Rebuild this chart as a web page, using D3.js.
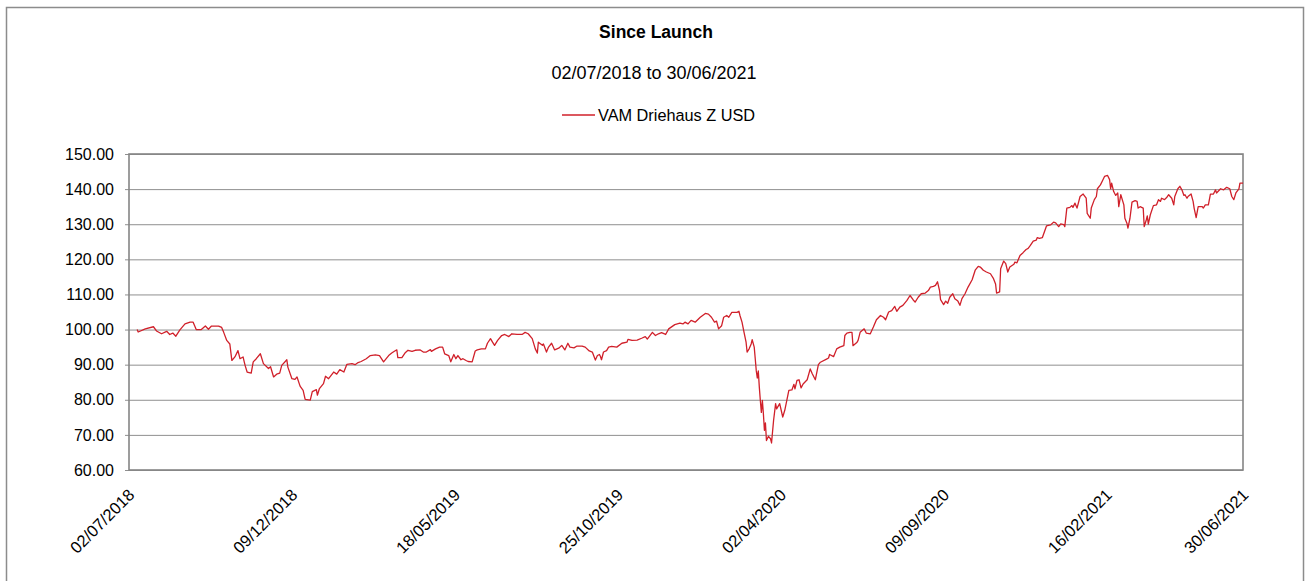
<!DOCTYPE html>
<html>

<head>
  <meta charset="UTF-8" />
  <title>Since Launch</title>
  <script src="https://d3js.org/d3.v7.min.js"></script>
  <style>
    body { margin: 0; background: #fff; }
    text { font-family: "Liberation Sans", Arial, sans-serif; fill: #000; }
  </style>
</head>

<body>
  <div id="chart"></div>

  <script>
    // chart texts
    const chartTitle = "Since Launch";
    const chartSubtitle = "02/07/2018 to 30/06/2021";
    const seriesName = "VAM Driehaus Z USD";

    // axis
    const xTickDates = ["2018-07-02", "2018-12-09", "2019-05-18", "2019-10-25",
      "2020-04-02", "2020-09-09", "2021-02-16", "2021-06-30"];
    const yTicks = [60, 70, 80, 90, 100, 110, 120, 130, 140, 150];

    // series
    const dates = [
      "2018-07-10", "2018-07-11", "2018-07-18", "2018-07-26", "2018-07-29", "2018-08-03", "2018-08-08", "2018-08-11",
      "2018-08-14", "2018-08-17", "2018-08-21", "2018-08-26", "2018-08-31", "2018-09-03", "2018-09-06", "2018-09-11",
      "2018-09-15", "2018-09-18", "2018-09-21", "2018-09-28", "2018-10-01", "2018-10-03", "2018-10-06", "2018-10-09",
      "2018-10-11", "2018-10-14", "2018-10-17", "2018-10-19", "2018-10-22", "2018-10-24", "2018-10-26", "2018-10-30",
      "2018-11-01", "2018-11-04", "2018-11-08", "2018-11-11", "2018-11-16", "2018-11-18", "2018-11-21", "2018-11-24",
      "2018-11-27", "2018-11-29", "2018-12-04", "2018-12-05", "2018-12-09", "2018-12-12", "2018-12-14", "2018-12-17",
      "2018-12-20", "2018-12-22", "2018-12-27", "2018-12-29", "2019-01-02", "2019-01-03", "2019-01-05", "2019-01-09",
      "2019-01-11", "2019-01-14", "2019-01-19", "2019-01-22", "2019-01-25", "2019-01-29", "2019-02-01", "2019-02-06",
      "2019-02-09", "2019-02-12", "2019-02-15", "2019-02-20", "2019-02-24", "2019-03-01", "2019-03-05", "2019-03-09",
      "2019-03-14", "2019-03-17", "2019-03-20", "2019-03-22", "2019-03-23", "2019-03-27", "2019-03-30", "2019-04-02",
      "2019-04-06", "2019-04-09", "2019-04-14", "2019-04-17", "2019-04-20", "2019-04-24", "2019-04-25", "2019-04-29",
      "2019-05-03", "2019-05-06", "2019-05-08", "2019-05-12", "2019-05-14", "2019-05-17", "2019-05-19", "2019-05-21",
      "2019-05-24", "2019-05-26", "2019-05-29", "2019-05-31", "2019-06-04", "2019-06-07", "2019-06-09", "2019-06-13",
      "2019-06-17", "2019-06-19", "2019-06-22", "2019-06-24", "2019-06-26", "2019-06-29", "2019-07-03", "2019-07-06",
      "2019-07-10", "2019-07-13", "2019-07-18", "2019-07-23", "2019-07-26", "2019-07-29", "2019-08-02", "2019-08-05",
      "2019-08-07", "2019-08-08", "2019-08-12", "2019-08-13", "2019-08-16", "2019-08-18", "2019-08-21", "2019-08-24",
      "2019-08-28", "2019-08-31", "2019-09-03", "2019-09-06", "2019-09-08", "2019-09-12", "2019-09-15", "2019-09-20",
      "2019-09-23", "2019-09-27", "2019-09-30", "2019-10-03", "2019-10-05", "2019-10-07", "2019-10-08", "2019-10-09",
      "2019-10-11", "2019-10-14", "2019-10-16", "2019-10-19", "2019-10-24", "2019-10-29", "2019-11-03", "2019-11-04",
      "2019-11-08", "2019-11-13", "2019-11-18", "2019-11-21", "2019-11-23", "2019-11-28", "2019-12-01", "2019-12-04",
      "2019-12-07", "2019-12-11", "2019-12-14", "2019-12-20", "2019-12-25", "2019-12-28", "2019-12-30", "2020-01-02",
      "2020-01-05", "2020-01-09", "2020-01-14", "2020-01-19", "2020-01-22", "2020-01-25", "2020-01-28", "2020-01-30",
      "2020-02-01", "2020-02-04", "2020-02-06", "2020-02-09", "2020-02-11", "2020-02-14", "2020-02-19", "2020-02-21",
      "2020-02-22", "2020-02-24", "2020-02-26", "2020-02-28", "2020-02-29", "2020-03-02", "2020-03-04", "2020-03-05",
      "2020-03-07", "2020-03-08", "2020-03-09", "2020-03-10", "2020-03-11", "2020-03-12", "2020-03-13", "2020-03-14",
      "2020-03-15", "2020-03-16", "2020-03-17", "2020-03-18", "2020-03-19", "2020-03-21", "2020-03-23", "2020-03-24",
      "2020-03-26", "2020-03-28", "2020-03-29", "2020-03-31", "2020-04-01", "2020-04-04", "2020-04-06", "2020-04-08",
      "2020-04-10", "2020-04-13", "2020-04-15", "2020-04-16", "2020-04-18", "2020-04-20", "2020-04-22", "2020-04-24",
      "2020-04-28", "2020-05-01", "2020-05-03", "2020-05-06", "2020-05-09", "2020-05-11", "2020-05-17", "2020-05-19",
      "2020-05-20", "2020-05-24", "2020-05-27", "2020-05-30", "2020-06-03", "2020-06-04", "2020-06-06", "2020-06-09",
      "2020-06-11", "2020-06-12", "2020-06-16", "2020-06-17", "2020-06-19", "2020-06-23", "2020-06-25", "2020-06-29",
      "2020-07-02", "2020-07-05", "2020-07-09", "2020-07-12", "2020-07-14", "2020-07-17", "2020-07-20", "2020-07-23",
      "2020-07-25", "2020-07-28", "2020-07-31", "2020-08-04", "2020-08-07", "2020-08-10", "2020-08-12", "2020-08-15",
      "2020-08-18", "2020-08-22", "2020-08-25", "2020-08-27", "2020-08-30", "2020-09-01", "2020-09-03", "2020-09-05",
      "2020-09-06", "2020-09-09", "2020-09-11", "2020-09-13", "2020-09-15", "2020-09-18", "2020-09-20", "2020-09-23",
      "2020-09-25", "2020-09-27", "2020-09-30", "2020-10-03", "2020-10-07", "2020-10-10", "2020-10-13", "2020-10-15",
      "2020-10-18", "2020-10-21", "2020-10-25", "2020-10-28", "2020-10-30", "2020-10-31", "2020-11-03", "2020-11-04",
      "2020-11-07", "2020-11-09", "2020-11-11", "2020-11-13", "2020-11-17", "2020-11-18", "2020-11-20", "2020-11-23",
      "2020-11-26", "2020-11-29", "2020-12-01", "2020-12-03", "2020-12-06", "2020-12-09", "2020-12-10", "2020-12-12",
      "2020-12-15", "2020-12-19", "2020-12-23", "2020-12-26", "2020-12-28", "2020-12-31", "2021-01-02", "2021-01-05",
      "2021-01-06", "2021-01-08", "2021-01-11", "2021-01-13", "2021-01-14", "2021-01-16", "2021-01-18", "2021-01-21",
      "2021-01-24", "2021-01-27", "2021-01-28", "2021-01-31", "2021-02-01", "2021-02-04", "2021-02-06", "2021-02-07",
      "2021-02-10", "2021-02-12", "2021-02-14", "2021-02-17", "2021-02-19", "2021-02-20", "2021-02-21", "2021-02-23",
      "2021-02-25", "2021-02-27", "2021-02-28", "2021-03-02", "2021-03-05", "2021-03-06", "2021-03-08", "2021-03-09",
      "2021-03-11", "2021-03-13", "2021-03-16", "2021-03-18", "2021-03-19", "2021-03-21", "2021-03-24", "2021-03-25",
      "2021-03-27", "2021-03-28", "2021-03-29", "2021-03-31", "2021-04-03", "2021-04-06", "2021-04-08", "2021-04-10",
      "2021-04-11", "2021-04-14", "2021-04-16", "2021-04-18", "2021-04-21", "2021-04-23", "2021-04-24", "2021-04-27",
      "2021-04-29", "2021-05-01", "2021-05-03", "2021-05-04", "2021-05-06", "2021-05-07", "2021-05-10", "2021-05-12",
      "2021-05-13", "2021-05-15", "2021-05-17", "2021-05-21", "2021-05-22", "2021-05-24", "2021-05-27", "2021-05-29",
      "2021-06-01", "2021-06-03", "2021-06-04", "2021-06-08", "2021-06-11", "2021-06-14", "2021-06-17", "2021-06-19",
      "2021-06-21", "2021-06-23", "2021-06-26", "2021-06-27", "2021-06-30"
    ];
    const navValues = [
      100.0, 99.3, 100.2, 100.8, 99.6, 98.8, 99.5, 98.6,
      99.0, 98.1, 99.9, 101.6, 102.1, 102.1, 100.0, 100.0,
      101.0, 100.1, 101.0, 101.0, 100.6, 99.2, 96.9, 95.9,
      91.2, 92.2, 94.0, 91.7, 92.2, 89.8, 87.9, 87.6,
      90.8, 91.7, 93.1, 90.3, 88.9, 89.4, 86.5, 87.3,
      87.6, 89.8, 91.4, 89.3, 86.0, 85.8, 86.5, 83.9,
      82.7, 80.1, 79.9, 82.3, 82.9, 81.3, 83.2, 84.6,
      86.7, 86.0, 87.9, 87.3, 88.6, 87.9, 90.1, 90.3,
      90.0, 90.6, 90.9, 91.7, 92.6, 92.8, 92.6, 90.8,
      92.6, 93.3, 93.9, 94.2, 92.0, 92.0, 93.3, 94.1,
      93.8, 94.1, 94.2, 93.6, 93.6, 94.3, 93.8, 94.5,
      95.0, 95.0, 93.1, 92.6, 90.8, 92.9, 91.7, 92.6,
      91.4, 91.7, 91.2, 90.9, 90.8, 93.9, 94.2, 94.5,
      94.5, 96.1, 97.4, 96.4, 95.5, 96.9, 98.3, 98.6,
      98.0, 98.8, 98.6, 98.6, 99.2, 98.8, 97.4, 94.5,
      93.3, 96.4, 95.5, 95.9, 93.6, 95.0, 96.1, 94.2,
      94.7, 95.5, 94.2, 96.1, 95.0, 94.8, 95.3, 95.3,
      95.0, 93.9, 93.6, 91.3, 92.6, 92.9, 92.3, 91.4,
      93.6, 94.0, 95.0, 95.2, 95.0, 96.1, 96.4, 97.2,
      96.9, 97.0, 97.6, 98.0, 97.3, 99.2, 98.3, 98.8,
      99.1, 98.6, 100.2, 101.4, 101.8, 101.6, 102.1, 101.6,
      102.6, 102.1, 103.5, 104.6, 104.4, 103.5, 102.1, 102.4,
      100.2, 101.1, 103.5, 104.0, 103.5, 104.9, 104.9, 105.2,
      104.0, 102.1, 99.2, 96.4, 93.6, 94.5, 95.9, 97.1,
      95.0, 91.7, 88.3, 86.2, 88.2, 83.6, 79.8, 76.4,
      79.8, 76.0, 71.3, 73.4, 68.4, 69.6, 68.9, 67.7,
      74.1, 78.9, 77.4, 78.4, 78.9, 75.1, 77.0, 79.8,
      82.7, 82.8, 84.4, 83.1, 85.5, 85.7, 83.4, 84.5,
      85.7, 88.8, 87.4, 85.7, 90.0, 90.7, 91.6, 91.9,
      92.9, 92.3, 94.5, 95.0, 95.4, 98.3, 99.0, 99.2,
      99.2, 95.4, 96.4, 96.9, 99.2, 100.2, 99.0, 98.8,
      100.7, 102.8, 104.0, 103.5, 102.8, 105.0, 105.4, 106.6,
      105.2, 106.4, 106.9, 108.3, 109.7, 108.5, 107.8, 109.2,
      110.2, 110.4, 111.1, 112.1, 112.3, 112.6, 113.6, 111.1,
      108.5, 107.1, 108.1, 107.5, 109.2, 110.2, 108.8, 108.1,
      106.9, 108.8, 110.2, 112.1, 114.2, 116.9, 118.0, 117.8,
      116.9, 116.4, 115.9, 114.5, 113.0, 110.4, 110.7, 117.3,
      119.5, 118.8, 116.4, 117.8, 118.6, 119.2, 119.0, 121.1,
      121.9, 122.8, 123.1, 123.9, 125.2, 125.5, 126.2, 126.0,
      126.2, 129.5, 129.8, 130.6, 130.4, 129.3, 130.1, 129.9,
      129.3, 134.6, 134.8, 135.3, 134.8, 136.0, 134.6, 137.9,
      138.6, 137.4, 133.1, 131.7, 134.6, 137.0, 137.9, 140.1,
      141.2, 142.4, 143.6, 143.9, 142.7, 140.1, 141.7, 139.3,
      138.2, 138.9, 135.0, 138.4, 135.5, 131.7, 130.3, 128.9,
      131.7, 136.3, 136.7, 136.5, 134.6, 135.0, 134.6, 129.3,
      131.2, 132.4, 130.0, 132.7, 135.3, 135.5, 137.0, 136.5,
      137.4, 137.0, 137.6, 138.4, 137.4, 135.5, 137.9, 140.1,
      140.8, 139.8, 138.2, 138.4, 137.4, 137.9, 138.6, 136.5,
      134.6, 131.9, 135.0, 135.0, 134.6, 135.5, 135.5, 138.6,
      138.6, 139.8, 138.9, 140.1, 139.8, 140.5, 140.1, 137.9,
      137.0, 138.9, 140.1, 141.7, 141.7
    ];

    const parseDate = d3.timeParse("%Y-%m-%d");
    const fmtDate = d3.timeFormat("%d/%m/%Y");
    const data = dates.map((d, i) => ({ date: parseDate(d), value: navValues[i] }));

    const width = 1312, height = 581;
    const plot = { left: 129, right: 1243, top: 154, bottom: 470 };
    const lineColor = "#d0202a";

    const svg = d3.select("#chart")
      .append("svg")
      .attr("width", width)
      .attr("height", height);

    // outer frame (bottom edge is cut off in the picture)
    svg.append("rect")
      .attr("x", 6.5)
      .attr("y", 7.5)
      .attr("width", 1297)
      .attr("height", 620)
      .attr("fill", "none")
      .attr("stroke", "#8c8c8c")
      .attr("stroke-width", 1.5);

    // titles
    svg.append("text")
      .attr("x", 656).attr("y", 38)
      .attr("text-anchor", "middle")
      .attr("font-size", 17.5)
      .attr("font-weight", "bold")
      .text(chartTitle);

    svg.append("text")
      .attr("x", 654).attr("y", 79)
      .attr("text-anchor", "middle")
      .attr("font-size", 18)
      .text(chartSubtitle);

    // legend
    svg.append("line")
      .attr("x1", 562).attr("x2", 595)
      .attr("y1", 115).attr("y2", 115)
      .attr("stroke", lineColor)
      .attr("stroke-width", 1.3);
    svg.append("text")
      .attr("x", 598).attr("y", 121)
      .attr("font-size", 16.3)
      .text(seriesName);

    // scales
    const xScale = d3.scaleTime()
      .domain([parseDate(xTickDates[0]), parseDate(xTickDates[xTickDates.length - 1])])
      .range([plot.left, plot.right]);
    const yScale = d3.scaleLinear()
      .domain([60, 150])
      .range([plot.bottom, plot.top]);

    // gridlines + y axis
    const yAxis = d3.axisLeft(yScale)
      .tickValues(yTicks)
      .tickFormat(d3.format(".2f"))
      .tickSize(-(plot.right - plot.left))
      .tickSizeOuter(0)
      .tickPadding(15);

    const gy = svg.append("g")
      .attr("class", "y-axis")
      .attr("transform", "translate(" + plot.left + ",0)")
      .call(yAxis);
    gy.select(".domain").remove();
    gy.selectAll(".tick line")
      .attr("x1", -4)
      .attr("stroke", "#8f8f8f")
      .attr("stroke-width", 1);
    gy.selectAll(".tick text")
      .attr("font-size", 16)
      .attr("font-family", "Liberation Sans, Arial, sans-serif")
      .attr("fill", "#000");

    // plot frame
    svg.append("rect")
      .attr("x", plot.left)
      .attr("y", plot.top)
      .attr("width", plot.right - plot.left)
      .attr("height", plot.bottom - plot.top)
      .attr("fill", "none")
      .attr("stroke", "#858585")
      .attr("stroke-width", 1.6);

    // x axis labels
    const xAxis = d3.axisBottom(xScale)
      .tickValues(xTickDates.map(parseDate))
      .tickFormat(fmtDate)
      .tickSize(0)
      .tickSizeOuter(0);

    const gx = svg.append("g")
      .attr("class", "x-axis")
      .attr("transform", "translate(0," + plot.bottom + ")")
      .call(xAxis);
    gx.select(".domain").remove();
    gx.selectAll(".tick text")
      .attr("font-size", 16.5)
      .attr("font-family", "Liberation Sans, Arial, sans-serif")
      .attr("fill", "#000")
      .attr("text-anchor", "end")
      .attr("dy", null)
      .attr("y", 0)
      .attr("transform", "translate(6,26) rotate(-45)");

    // series line
    const line = d3.line()
      .x(d => xScale(d.date))
      .y(d => yScale(d.value));

    svg.append("path")
      .datum(data)
      .attr("fill", "none")
      .attr("stroke", lineColor)
      .attr("stroke-width", 1.3)
      .attr("stroke-linejoin", "round")
      .attr("d", line);
  </script>
</body>

</html>
